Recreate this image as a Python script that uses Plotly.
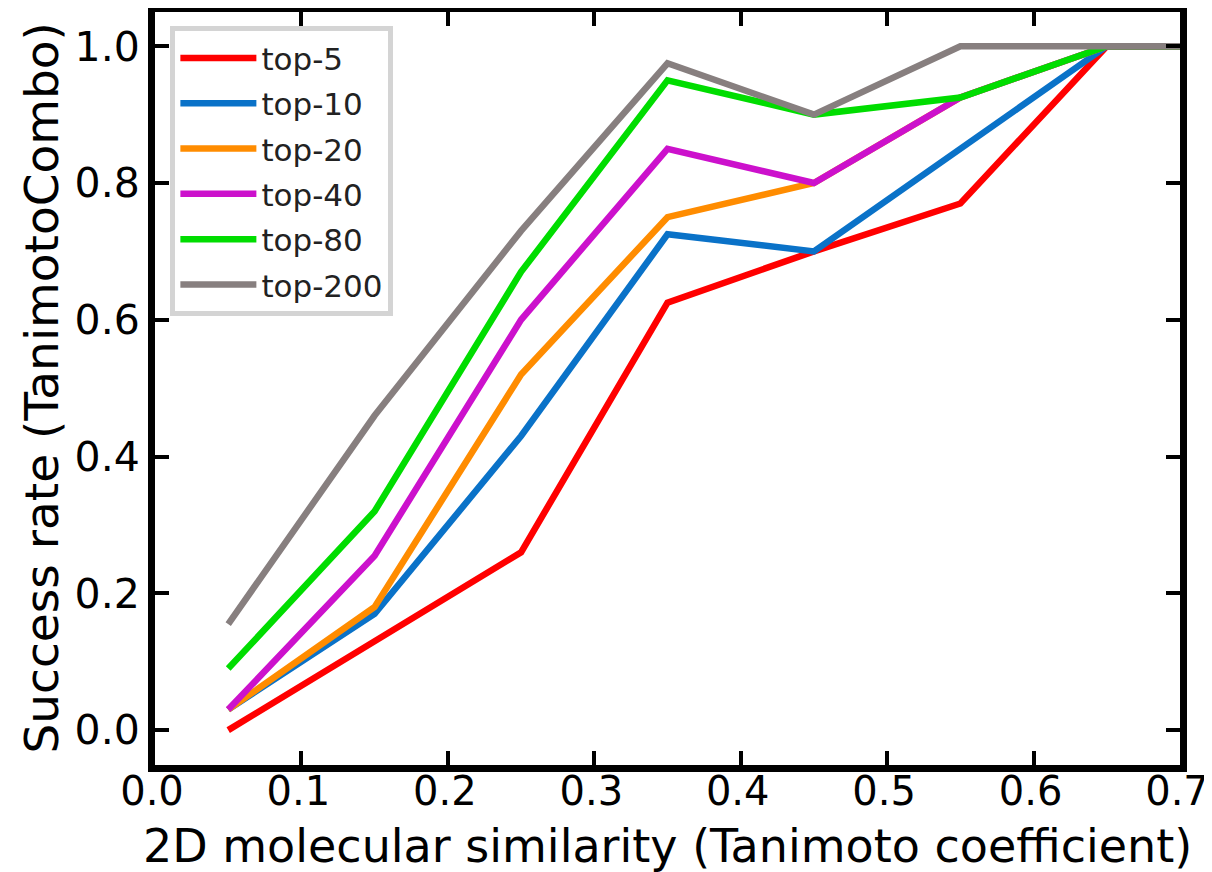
import plotly.graph_objects as go

x_vals = [0.05, 0.15, 0.25, 0.35, 0.45, 0.55, 0.65, 0.75]
series_names = ["top-5", "top-10", "top-20", "top-40", "top-80", "top-200"]
top5 = [0.00, 0.13, 0.26, 0.625, 0.70, 0.77, 1.0, 1.0]
top10 = [0.03, 0.17, 0.43, 0.725, 0.70, 0.85, 1.0, 1.0]
top20 = [0.03, 0.18, 0.52, 0.75, 0.80, 0.925, 1.0, 1.0]
top40 = [0.03, 0.255, 0.60, 0.85, 0.80, 0.925, 1.0, 1.0]
top80 = [0.09, 0.32, 0.67, 0.95, 0.90, 0.925, 1.0, 1.0]
top200 = [0.155, 0.46, 0.73, 0.975, 0.90, 1.0, 1.0, 1.0]
series = [top5, top10, top20, top40, top80, top200]
colors = ["#ff0000", "#0a72c8", "#ff8c00", "#cc11cc", "#00dd00", "#877f7f"]

x_ticks = [0.0, 0.1, 0.2, 0.3, 0.4, 0.5, 0.6, 0.7]
y_ticks = [0.0, 0.2, 0.4, 0.6, 0.8, 1.0]
x_title = "2D molecular similarity (Tanimoto coefficient)"
y_title = "Success rate (TanimotoCombo)"

fig = go.Figure()
for name, ys, c in zip(series_names, series, colors):
    fig.add_trace(go.Scatter(x=x_vals, y=ys, mode="lines", name=name,
                             legendgroup=name,
                             line=dict(color=c, width=6.5)))

axis_common = dict(showline=True, linewidth=7, linecolor="black", mirror="ticks",
                   ticks="inside", ticklen=14, tickwidth=4, tickcolor="black",
                   showgrid=False, zeroline=False, automargin=False,
                   ticklabeloverflow="allow")

W, H = 1204, 864
fig.update_layout(
    width=W, height=H,
    margin=dict(l=147, r=32, t=4, b=107),
    plot_bgcolor="white", paper_bgcolor="white",
    xaxis=dict(range=[0, 0.7], tickvals=x_ticks,
               ticktext=[f"{v:.1f}" for v in x_ticks],
               tickfont=dict(family="DejaVu Sans", size=40, color="black"),
               ticklabelstandoff=-15, ticklabelshift=-3,
               **axis_common),
    yaxis=dict(range=[-0.051, 1.05], tickvals=y_ticks,
               ticktext=[f"{v:.1f}" for v in y_ticks],
               tickfont=dict(family="DejaVu Sans", size=41, color="black"),
               **axis_common),
    legend=dict(x=0.015, y=0.981, xanchor="left", yanchor="top",
                bgcolor="white", bordercolor="#d4d4d4", borderwidth=5,
                font=dict(family="DejaVu Sans", size=31, color="#222222"),
                itemwidth=76, tracegroupgap=2),
    showlegend=True,
)

# axis titles as annotations for precise placement
fig.add_annotation(text=x_title, xref="paper", yref="paper",
                   x=0.5, y=0, xanchor="center", yanchor="middle",
                   yshift=-(838 - 757), showarrow=False,
                   font=dict(family="DejaVu Sans", size=46, color="black"))
fig.add_annotation(text=y_title, xref="paper", yref="paper",
                   x=0, y=0.5, xanchor="center", yanchor="middle",
                   xshift=-(147 - 33), textangle=-90, showarrow=False,
                   font=dict(family="DejaVu Sans", size=47, color="black"))

fig.write_html("out.html")
